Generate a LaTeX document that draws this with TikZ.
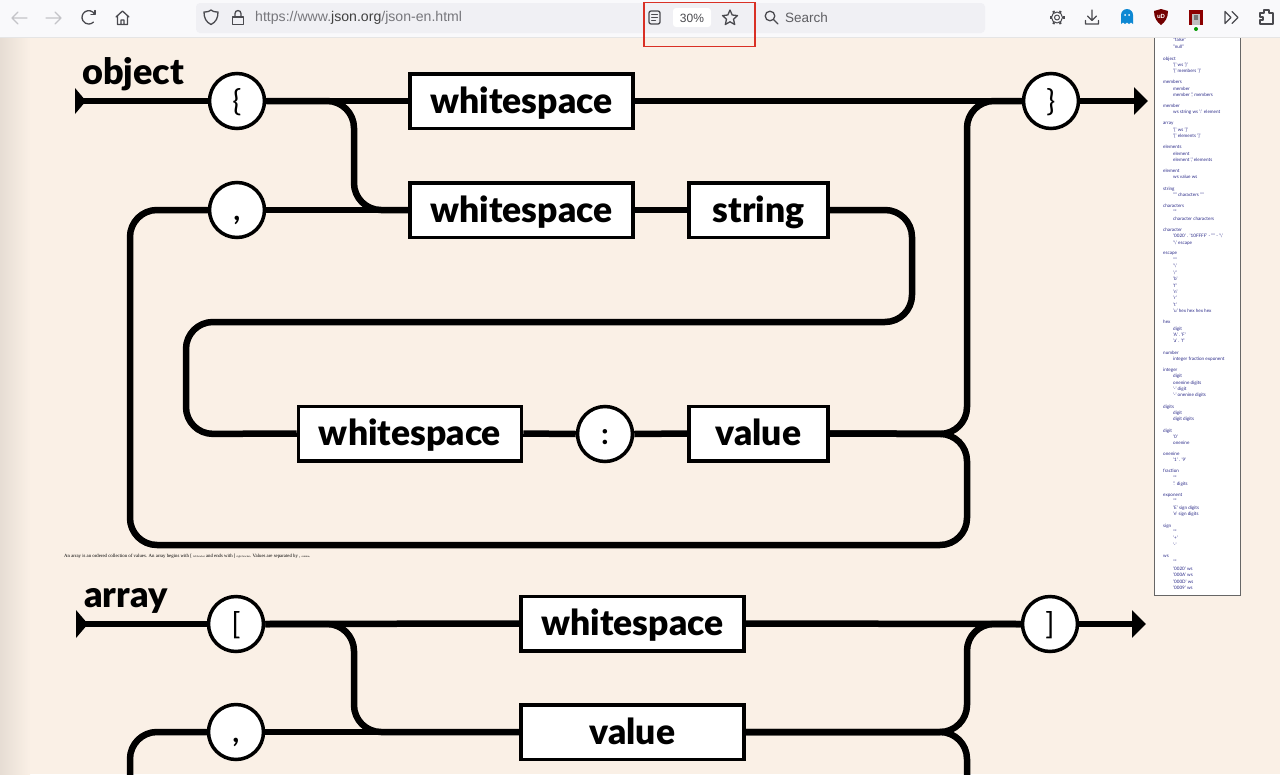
\documentclass[tikz,border=0pt]{standalone}
\usepackage{fontspec}
\setmainfont{Lato}
\newfontfamily\uifont{Liberation Sans}
\newfontfamily\capfont{Liberation Serif}
\newfontfamily\heavy{Lato Black}
\usetikzlibrary{arrows.meta,calc}
\definecolor{pagebg}{HTML}{FAF0E6}
\definecolor{barbg}{HTML}{F9F9FB}
\definecolor{urlbg}{HTML}{F0F0F4}
\definecolor{iconc}{HTML}{4A4A4F}
\definecolor{iconl}{HTML}{C4C4C8}
\definecolor{urlc}{HTML}{77777C}
\definecolor{navy}{HTML}{2A2A88}
\definecolor{redbox}{HTML}{D93025}
\newcounter{gc}
\newcommand{\gn}[2]{\stepcounter{gc}\node[gname] (g\arabic{gc}) at (1163,#1) {#2};}
\newcommand{\gi}[2]{\stepcounter{gc}\node[gname] (g\arabic{gc}) at (1173,#1) {#2};}
\begin{document}
\begin{tikzpicture}[x=1pt,y=-1pt,
  track/.style={line width=6.5pt,black,rounded corners=27pt,line join=round},
  plain/.style={line width=6.5pt,black},
  wordbox/.style={draw=black,line width=3.5pt,fill=white,minimum height=54.5pt,inner sep=0pt,text height=30pt,text depth=6pt,font=\fontsize{35.5}{35.5}\selectfont\heavy},
  tokcirc/.style={circle,draw=black,line width=3.5pt,fill=white,minimum size=55pt,inner sep=0pt,text height=22pt,text depth=2pt,font=\fontsize{30}{30}\selectfont},
  headlabel/.style={inner sep=0pt,anchor=base west,font=\fontsize{36}{36}\selectfont\heavy},
  gname/.style={inner sep=0pt,anchor=west,text=navy,font=\fontsize{4.6}{5}\selectfont},
  uitext/.style={inner sep=0pt,font=\fontsize{13.5}{13.5}\selectfont\uifont},
  icon/.style={draw=iconc,line width=1.3pt,line cap=round,line join=round},
  iconlight/.style={draw=iconl,line width=1.3pt,line cap=round,line join=round}]
\clip (0,0) rectangle (1280,774);
\useasboundingbox (0,0) rectangle (1280,774);
% page
\fill[pagebg] (0,0) rectangle (1280,774);
\shade[left color=black!8!pagebg,right color=pagebg,shading angle=90] (0,37) rectangle (30,774);
% corners of the object diagram
\coordinate (ostart) at (80,101);
\coordinate (oend) at (1148,101);
\coordinate (obr) at (354,101);
\coordinate (obrb) at (354,210);
\coordinate (ors) at (912,210);
\coordinate (orb) at (912,322);
\coordinate (olt) at (186,322);
\coordinate (olb) at (186,434);
\coordinate (ojoin) at (967,434);
\coordinate (ojt) at (967,101);
\coordinate (ojb) at (967,545);
\coordinate (obb) at (130,545);
\coordinate (obt) at (130,210);
% object nodes
\node[tokcirc] (ob) at (237,101) {\{};
\node[wordbox,minimum width=223pt] (ow1) at (521.5,101) {whitespace};
\node[tokcirc] (cb) at (1051,101) {\}};
\node[tokcirc] (oc) at (237,210) {\bfseries ,};
\node[wordbox,minimum width=223pt] (ow2) at (521.5,210) {whitespace};
\node[wordbox,minimum width=139pt] (ostr) at (758.5,210) {string};
\node[wordbox,minimum width=223pt] (ow3) at (410,433.5) {whitespace};
\node[tokcirc] (ocol) at (605,434) {\bfseries :};
\node[wordbox,minimum width=139pt] (oval) at (758.5,433.5) {value};
% object connectors
\draw[plain] (ostart) -- (ob.west);
\draw[plain] (ob.east) -- (ow1.west);
\draw[plain] (ow1.east) -- (cb.west);
\draw[track] (ob.east) -- (obr) -- (obrb) -- (ow2.west);
\draw[plain] (oc.east) -- (ow2.west);
\draw[plain] (ow2.east) -- (ostr.west);
\draw[track] (ostr.east) -- (ors) -- (orb) -- (olt) -- (olb) -- (ow3.west);
\draw[plain] (ow3.east) -- (ocol.west);
\draw[plain] (ocol.east) -- (oval.west);
\draw[track] (oval.east) -- (ojoin) -- (ojt) -- (cb.west);
\draw[track] (oval.east) -- (ojoin) -- (ojb) -- (obb) -- (obt) -- (oc.west);
\draw[plain,-{Triangle[length=14pt,width=27pt]}] (cb.east) -- (oend);
\fill[black] (75,88) -- (86,101) -- (75,114) -- cycle;
\node[headlabel] (objlabel) at (82,84.5) {object};
% caption
\node[inner sep=0pt,anchor=west,font=\fontsize{4.8}{6}\selectfont\capfont] (cap) at (64,556)
  {An array is an ordered collection of values. An array begins with [ {\fontsize{2.6}{3}\selectfont left bracket} and ends with ] {\fontsize{2.6}{3}\selectfont right bracket}. Values are separated by , {\fontsize{2.6}{3}\selectfont comma}.};
% array diagram
\coordinate (astart) at (82,624);
\coordinate (aend) at (1146,624);
\coordinate (abr) at (354,624);
\coordinate (abrb) at (354,732);
\coordinate (ajoin) at (967,732);
\coordinate (ajt) at (967,624);
\coordinate (ajb) at (967,800);
\coordinate (alt) at (130,732);
\coordinate (alb) at (130,800);
\node[tokcirc] (ab) at (236,624) {[};
\node[wordbox,minimum width=223pt] (aw) at (632.5,623.5) {whitespace};
\node[tokcirc] (cbk) at (1050,624) {]};
\node[tokcirc] (ac) at (236,732) {\bfseries ,};
\node[wordbox,minimum width=223pt] (aval) at (632.5,732) {value};
\draw[plain] (astart) -- (ab.west);
\draw[plain] (ab.east) -- (aw.west);
\draw[plain] (aw.east) -- (cbk.west);
\draw[track] (ab.east) -- (abr) -- (abrb) -- (aval.west);
\draw[plain] (ac.east) -- (aval.west);
\draw[track] (aval.east) -- (ajoin) -- (ajt) -- (cbk.west);
\draw[track] (aval.east) -- (ajoin) -- (ajb);
\draw[track] (ac.west) -- (alt) -- (alb);
\draw[plain,-{Triangle[length=14pt,width=27pt]}] (cbk.east) -- (aend);
\fill[black] (76,610) -- (88,624) -- (76,638) -- cycle;
\node[headlabel] (arrlabel) at (84,607.5) {array};
% grammar sidebar
\filldraw[fill=white,draw=black!60,line width=0.8pt] (1154.5,30) rectangle (1240.5,595);
\gi{40}{"false"}\gi{47}{"null"}
\gn{59}{object}\gi{65}{'\{' ws '\}'}\gi{71}{'\{' members '\}'}
\gn{82}{members}\gi{89}{member}\gi{95}{member ',' members}
\gn{106}{member}\gi{112}{ws string ws ':' element}
\gn{124}{array}\gi{130}{'[' ws ']'}\gi{136}{'[' elements ']'}
\gn{147}{elements}\gi{154}{element}\gi{160}{element ',' elements}
\gn{171}{element}\gi{177}{ws value ws}
\gn{189}{string}\gi{195}{'"' characters '"'}
\gn{206}{characters}\gi{212}{""}\gi{219}{character characters}
\gn{230}{character}\gi{236}{'0020' . '10FFFF' - '"' - '\textbackslash'}\gi{243}{'\textbackslash' escape}
\gn{254}{escape}\gi{260}{'"'}\gi{266}{'\textbackslash'}\gi{273}{'/'}\gi{279}{'b'}\gi{286}{'f'}\gi{292}{'n'}\gi{298}{'r'}\gi{305}{'t'}\gi{311}{'u' hex hex hex hex}
\gn{322}{hex}\gi{329}{digit}\gi{335}{'A' . 'F'}\gi{341}{'a' . 'f'}
\gn{353}{number}\gi{359}{integer fraction exponent}
\gn{370}{integer}\gi{376}{digit}\gi{383}{onenine digits}\gi{389}{'-' digit}\gi{395}{'-' onenine digits}
\gn{407}{digits}\gi{413}{digit}\gi{419}{digit digits}
\gn{431}{digit}\gi{437}{'0'}\gi{443}{onenine}
\gn{454}{onenine}\gi{460}{'1' . '9'}
\gn{471}{fraction}\gi{478}{""}\gi{484}{'.' digits}
\gn{495}{exponent}\gi{501}{""}\gi{508}{'E' sign digits}\gi{514}{'e' sign digits}
\gn{526}{sign}\gi{532}{""}\gi{538}{'+'}\gi{545}{'-'}
\gn{556}{ws}\gi{562}{""}\gi{569}{'0020' ws}\gi{575}{'000A' ws}\gi{582}{'000D' ws}\gi{588}{'0009' ws}
% browser toolbar
\fill[barbg] (0,0) rectangle (1280,37);
\fill[black!10] (0,37) rectangle (1280,38);
\fill[urlbg,rounded corners=4pt] (196,3) rectangle (985,33);
\fill[white,rounded corners=3pt] (673,8) rectangle (711,27);
\node[uitext,anchor=west,font=\fontsize{14.1}{14.1}\selectfont\uifont] (url) at (255,18) {\textcolor{urlc}{https://www.}\textcolor{black!75}{json.org}\textcolor{urlc}{/json-en.html}};
\node[uitext,font=\fontsize{12}{12}\selectfont\uifont,text=iconc] (zoomval) at (692,18) {30\%};
\node[uitext,anchor=west,text=urlc!80!black] (searchlabel) at (785,18) {Search};
% back, forward
\draw[iconlight] (27,18) -- (12,18) (18,12) -- (12,18) -- (18,24);
\draw[iconlight] (46,18) -- (61,18) (55,12) -- (61,18) -- (55,24);
% reload
\draw[icon] (94.5,14) arc[start angle=-30,end angle=-315,radius=6.7];
\draw[icon] (95,10.5) -- (95,14.5) -- (91,14.5);
% home
\draw[icon] (116,17) -- (122.5,11) -- (129,17) (117.5,16) -- (117.5,24.5) -- (127.5,24.5) -- (127.5,16) (121,24.5) -- (121,20) -- (124,20) -- (124,24.5);
% shield
\draw[icon] (204,12) .. controls (208,12) and (210,11) .. (211,10) .. controls (212,11) and (214,12) .. (218,12) .. controls (218,18) and (216,22) .. (211,24.5) .. controls (206,22) and (204,18) .. (204,12) -- cycle;
% lock
\draw[icon] (232.5,17) rectangle (243.5,24.5);
\draw[icon] (235,17) -- (235,13.5) arc[start angle=180,end angle=360,radius=3] -- (241,17);
% reader
\draw[icon,rounded corners=2pt] (649,11) rectangle (660,24);
\draw[icon,line width=1pt] (651.5,14.5) -- (657.5,14.5) (651.5,17.5) -- (657.5,17.5) (651.5,20.5) -- (655.5,20.5);
% star
\draw[icon] (730,10) -- (732.2,15) -- (737.5,15.6) -- (733.5,19.2) -- (734.7,24.5) -- (730,21.8) -- (725.3,24.5) -- (726.5,19.2) -- (722.5,15.6) -- (727.8,15) -- cycle;
% search
\draw[icon] (770,16) circle[radius=4.8];
\draw[icon] (773.5,19.5) -- (778,24);
% red highlight rectangle
\draw[redbox,line width=1.5pt] (644,2.5) -- (644,46.5) -- (755,46.5) -- (755,2.5) -- cycle;
% gear
\draw[icon,line width=1pt] (1057,17.5) circle[radius=2.5];
\draw[icon,line width=1pt] (1057,17.5) circle[radius=5.5];
\foreach \a in {0,60,...,300}{\draw[icon,line width=2.2pt,line cap=butt] (1057,17.5) ++(\a:5.5) -- ++(\a:2);}
% download
\draw[icon] (1092,10) -- (1092,20) (1087.5,16) -- (1092,20.5) -- (1096.5,16) (1085.5,20.5) -- (1085.5,24) -- (1098.5,24) -- (1098.5,20.5);
% ghost
\fill[cyan!70!blue] (1121,24) -- (1121,15) arc[start angle=180,end angle=360,radius=6] -- (1133,24) -- (1131,22.5) -- (1129,24) -- (1127,22.5) -- (1125,24) -- (1123,22.5) -- cycle;
\fill[white] (1125,15) circle[radius=1] (1129,15) circle[radius=1];
% red shield
\fill[red!45!black] (1154,11) -- (1161,9) -- (1168,11) .. controls (1168,18) and (1165,22) .. (1161,25) .. controls (1157,22) and (1154,18) .. (1154,11) -- cycle;
\node[inner sep=0pt,text=white,font=\fontsize{6}{6}\selectfont\bfseries\uifont] (ublabel) at (1161,16.5) {uD};
% avatar
\fill[red!55!black] (1189,10) rectangle (1203,25);
\fill[black!25] (1192,14) rectangle (1200,25);
\fill[black!55] (1194,15) rectangle (1198,20);
\fill[green!60!black] (1196,29) circle[radius=2];
% chevrons
\draw[icon] (1225,11.5) -- (1231,17.5) -- (1225,23.5) -- cycle;
\draw[icon] (1232,11.5) -- (1238,17.5) -- (1232,23.5);
% puzzle
\draw[icon] (1260,13) -- (1264,13) -- (1264,10) -- (1269,10) -- (1269,13) -- (1273,13) -- (1273,24) -- (1260,24) -- (1260,20) -- (1263,20) -- (1263,17) -- (1260,17) -- cycle;
\end{tikzpicture}
\end{document}
